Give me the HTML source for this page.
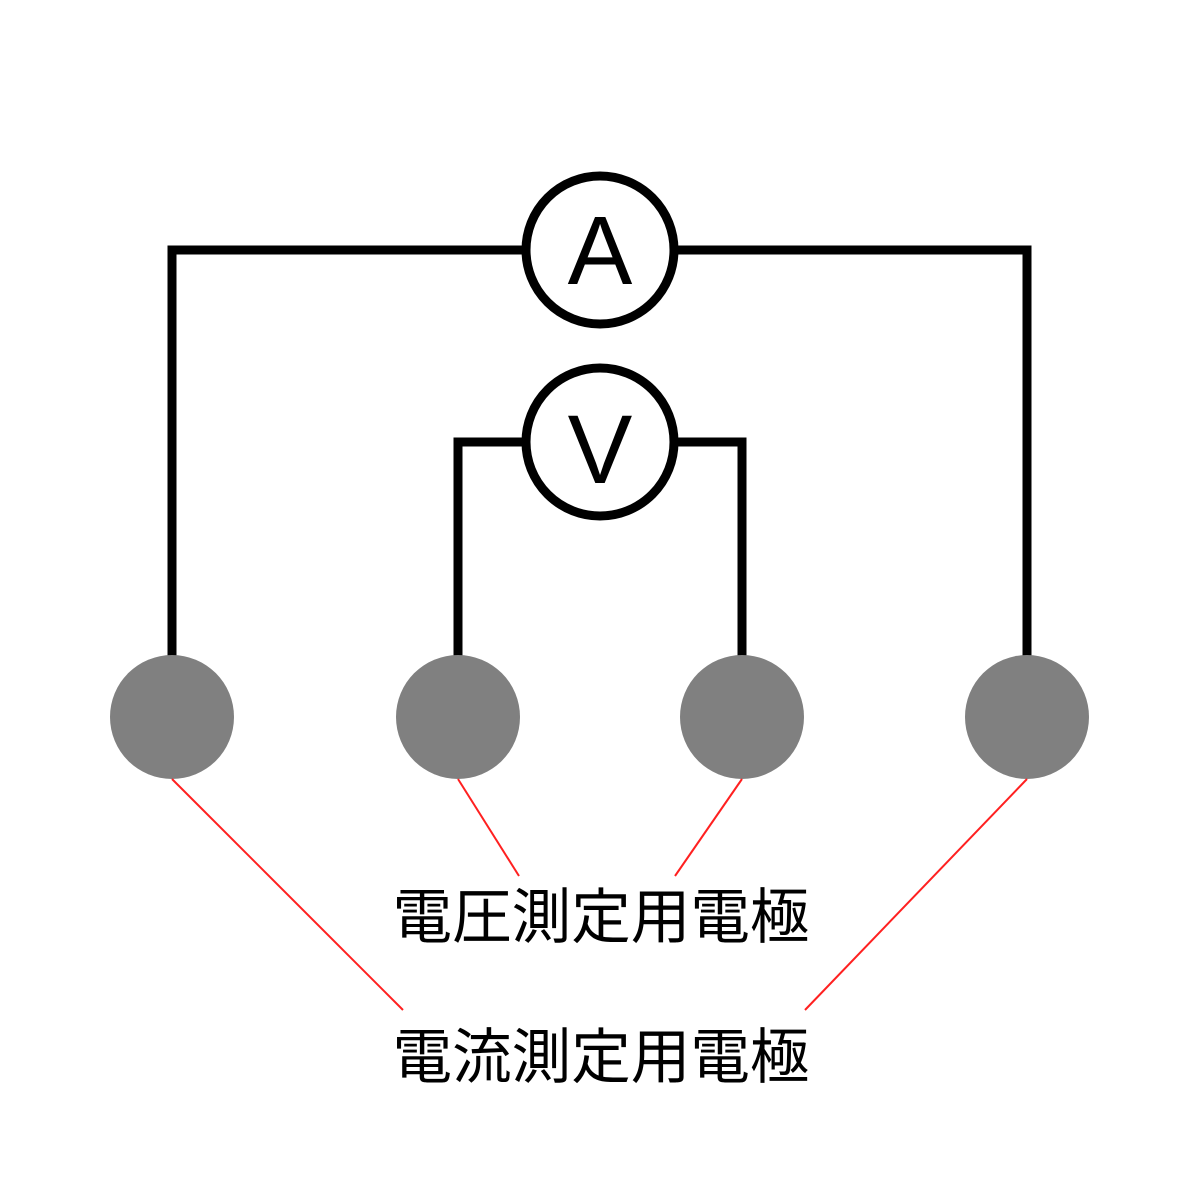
<!DOCTYPE html>
<html><head><meta charset="utf-8"><style>html,body{margin:0;padding:0;background:#fff;overflow:hidden}svg{display:block}</style></head>
<body>
<svg width="1200" height="1200" viewBox="0 0 1200 1200" xmlns="http://www.w3.org/2000/svg">
<rect width="1200" height="1200" fill="#fff"/>
<g fill="none" stroke="#000" stroke-width="9" stroke-linejoin="miter">
<polyline points="172,660 172,250 526,250"/>
<polyline points="674,250 1027,250 1027,660"/>
<polyline points="458,660 458,442 526,442"/>
<polyline points="674,442 742,442 742,660"/>
<circle cx="600" cy="250" r="74" fill="#fff"/>
<circle cx="600" cy="442" r="74" fill="#fff"/>
</g>
<g fill="#808080">
<circle cx="172" cy="717" r="62"/>
<circle cx="458" cy="717" r="62"/>
<circle cx="742" cy="717" r="62"/>
<circle cx="1027" cy="717" r="62"/>
</g>
<g stroke="#ff2020" stroke-width="2">
<line x1="172" y1="779" x2="403" y2="1010"/>
<line x1="458" y1="779" x2="519" y2="876"/>
<line x1="742" y1="779" x2="675" y2="876"/>
<line x1="1027" y1="779" x2="805" y2="1010"/>
</g>
<g font-family="Liberation Sans, sans-serif" font-size="97" text-anchor="middle" fill="#000">
<text x="600" y="284">A</text>
<text x="600" y="483">V</text>
</g>
<g font-family="Liberation Sans, 'Noto Sans CJK JP', sans-serif" font-size="60" text-anchor="middle" fill="#000">
<text x="601" y="938" textLength="417" lengthAdjust="spacingAndGlyphs">電圧測定用電極</text>
<text x="601" y="1078" textLength="417" lengthAdjust="spacingAndGlyphs">電流測定用電極</text>
</g>
</svg>
</body></html>
